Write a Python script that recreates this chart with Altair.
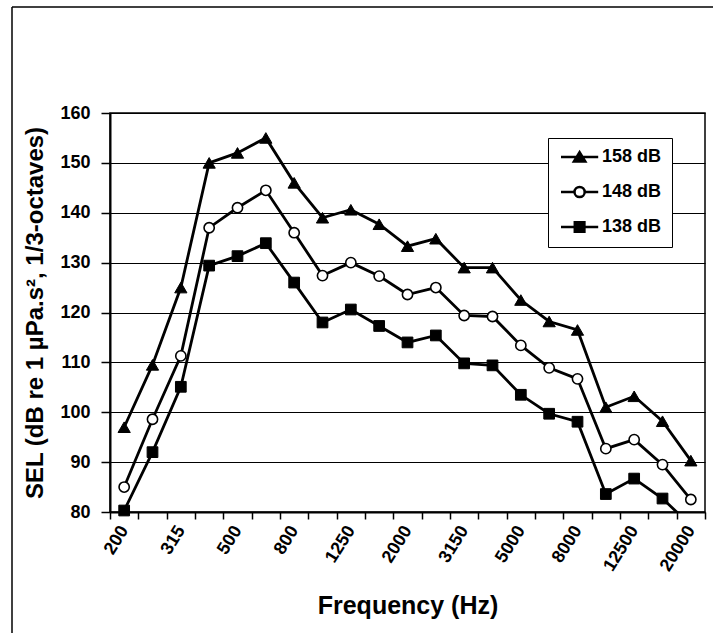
import json
import altair as alt
import pandas as pd

frequencies = ["200", "250", "315", "400", "500", "630", "800", "1000", "1250", "1600",
               "2000", "2500", "3150", "4000", "5000", "6300", "8000", "10000", "12500",
               "16000", "20000"]
tick_labels = frequencies[::2]
series_names = ["158 dB", "148 dB", "138 dB"]
sel_158 = [97.0, 109.5, 125.0, 150.0, 152.0, 155.0, 146.0, 139.0, 140.6, 137.7, 133.3,
           134.8, 129.0, 129.0, 122.5, 118.2, 116.5, 101.0, 103.2, 98.2, 90.3]
sel_148 = [85.0, 98.6, 111.3, 137.0, 141.0, 144.5, 136.0, 127.4, 130.0, 127.3, 123.6,
           125.0, 119.4, 119.2, 113.4, 108.9, 106.7, 92.7, 94.5, 89.5, 82.5]
sel_138 = [80.3, 92.0, 105.1, 129.4, 131.3, 133.9, 126.0, 118.0, 120.6, 117.3, 114.0,
           115.4, 109.8, 109.4, 103.5, 99.7, 98.1, 83.6, 86.7, 82.7, 77.3]

rows = []
for name, vals in zip(series_names, [sel_158, sel_148, sel_138]):
    for i, (f, v) in enumerate(zip(frequencies, vals)):
        rows.append({"freq": f, "idx": i, "series": name, "sel": v})
df = pd.DataFrame(rows)

FONT = "Liberation Sans"

label_expr = "indexof(" + json.dumps(tick_labels) + ", datum.label) >= 0 ? datum.label : ''"

x_enc = alt.X(
    "freq:N", sort=frequencies,
    scale=alt.Scale(type="band", paddingInner=0, paddingOuter=0),
    axis=alt.Axis(
        title="Frequency (Hz)", titleFont=FONT, titleFontSize=25, titleFontWeight="bold",
        titleColor="black", titlePadding=19,
        labelExpr=label_expr, labelAngle=302, labelAlign="right", labelBaseline="middle",
        labelFont=FONT, labelFontSize=18, labelFontWeight="bold", labelColor="black",
        labelPadding=8, labelOverlap=False,
        tickBand="extent", tickSize=7, tickColor="black", tickWidth=1.5,
        domainColor="black", domainWidth=2, grid=False,
    ),
)
y_enc = alt.Y(
    "sel:Q",
    scale=alt.Scale(domain=[80, 160], nice=False, zero=False),
    axis=alt.Axis(
        title="SEL  (dB re 1 µPa.s², 1/3-octaves)", titleFont=FONT, titleFontSize=24,
        titleFontWeight="bold", titleColor="black", titlePadding=12,
        values=list(range(80, 161, 10)),
        labelFont=FONT, labelFontSize=18, labelFontWeight="bold", labelColor="black",
        labelPadding=11, tickSize=9, tickColor="black", tickWidth=1.5,
        domainColor="black", domainWidth=2,
        grid=True, gridColor="black", gridWidth=1,
    ),
)

lines = alt.Chart(df).mark_line(color="black", strokeWidth=2.8, clip=True).encode(
    x=x_enc, y=y_enc, detail="series:N", order=alt.Order("idx:Q")
)

point_styles = {
    "158 dB": dict(shape="triangle-up", fill="black", size=150, strokeWidth=1),
    "148 dB": dict(shape="circle", fill="white", size=105, strokeWidth=1.6),
    "138 dB": dict(shape="square", fill="black", size=115, strokeWidth=1),
}
point_layers = []
for name in series_names:
    st = point_styles[name]
    point_layers.append(
        alt.Chart(df)
        .transform_filter(alt.datum.series == name)
        .transform_filter(alt.datum.sel >= 80)
        .mark_point(shape=st["shape"], fill=st["fill"], filled=True, stroke="black",
                    strokeWidth=st["strokeWidth"], size=st["size"], opacity=1)
        .encode(x=x_enc, y=y_enc)
    )

legend_paths = [
    "M-1,0H5.2M2.1,-0.8L3.05,0.75L1.15,0.75Z",
    "M-1,0H1.25M2.95,0H5.2M2.95,0A0.85,0.85 0 1,1 1.25,0A0.85,0.85 0 1,1 2.95,0Z",
    "M-1,0H5.2M1.3,-0.8H2.9V0.8H1.3Z",
]
legend_layer = (
    alt.Chart(df)
    .transform_filter("false")
    .mark_point(filled=True, strokeWidth=2.5, opacity=1)
    .encode(
        shape=alt.Shape("series:N", scale=alt.Scale(domain=series_names, range=legend_paths),
                        legend=alt.Legend(title=None)),
        fill=alt.Fill("series:N", scale=alt.Scale(domain=series_names,
                                                  range=["black", "white", "black"]),
                      legend=alt.Legend(title=None)),
        stroke=alt.Stroke("series:N", scale=alt.Scale(domain=series_names,
                                                      range=["black", "black", "black"]),
                          legend=alt.Legend(title=None)),
    )
)

frame = alt.Chart(alt.Data(values=[{"a": 1}])).mark_rule(color="black", strokeWidth=1.5)
frame_left = frame.encode(x=alt.value(-98), y=alt.value(-106), y2=alt.value(530))
frame_top = frame.encode(x=alt.value(-98), x2=alt.value(610), y=alt.value(-106))

chart = (
    alt.layer(lines, *point_layers, legend_layer, frame_left, frame_top)
    .properties(
        width=595, height=399,
        autosize=alt.AutoSizeParams(type="none"),
        padding={"left": 110, "top": 113, "right": 8, "bottom": 121},
        background="white",
    )
    .configure_view(stroke="black", strokeWidth=1.5)
    .configure_legend(
        orient="none", legendX=438, legendY=25,
        strokeColor="black", fillColor="white", padding=10,
        labelFont=FONT, labelFontSize=18, labelFontWeight="bold", labelColor="black",
        labelOffset=26, rowPadding=14, symbolSize=144, symbolStrokeWidth=2.5,
    )
)

chart.save("out.html", embed_options={"renderer": "svg", "actions": False})
